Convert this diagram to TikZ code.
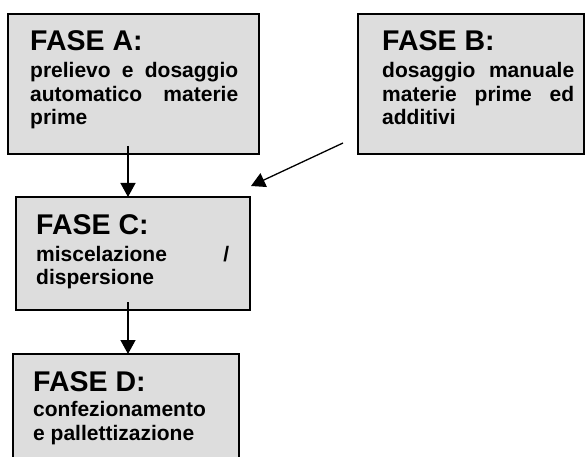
\documentclass[tikz,border=0pt]{standalone}
\usepackage{fontspec}
\setmainfont{Liberation Sans}
\usetikzlibrary{arrows.meta}
\setlength{\parindent}{0pt}
\hyphenpenalty=10000
\tolerance=10000
\hbadness=10000
\newcommand{\fasetitle}{\fontsize{28.5bp}{30bp}\selectfont\bfseries}
\newcommand{\fasebody}{\fontsize{21bp}{23.5bp}\selectfont\bfseries}
\tikzset{
	fasebox/.style={draw, line width=1.5bp, fill=gray!27, rectangle, anchor=north west, inner sep=0pt, outer sep=0pt},
	fasetext/.style={anchor=north west, inner sep=0pt, align=justify, font=\fasebody},
	flow/.style={line width=1.3bp, -{Triangle[length=14bp,width=15bp]}}
}
\begin{document}
\begin{tikzpicture}[x=1bp, y=-1bp]
	\clip (0,0) rectangle (586,457);
	% (A) prelievo automatico
	\node[fasebox, minimum width=251bp, minimum height=140bp] (A) at (8,14) {};
	\node[fasetext, text width=208bp] (textA) at (30,30.6) {\fasetitle FASE A:\par\vspace{3.5bp}\fasebody prelievo e dosaggio automatico materie prime};

	% (B) dosaggio manuale
	\node[fasebox, minimum width=226bp, minimum height=140bp] (B) at (358,14) {};
	\node[fasetext, text width=192bp] (textB) at (382,30.6) {\fasetitle FASE B:\par\vspace{3.5bp}\fasebody dosaggio manuale materie prime ed additivi};

	% (C) miscelazione
	\node[fasebox, minimum width=234bp, minimum height=113bp] (C) at (16,197) {};
	\node[fasetext, text width=193bp] (textC) at (36,214.6) {\fasetitle FASE C:\par\vspace{3.2bp}\fasebody miscelazione / dispersione};

	% (D) confezionamento
	\node[fasebox, minimum width=226bp, minimum height=120bp] (D) at (13,354) {};
	\node[fasetext, text width=178bp] (textD) at (33,371.3) {\fasetitle FASE D:\par\vspace{2bp}\fasebody confezionamento e pallettizazione};

	\draw[flow] ([xshift=-5.5bp, yshift=8bp]A.south) -- ([xshift=-5.5bp]A.south |- C.north);
	\draw[flow] ([xshift=-15bp, yshift=11bp]B.south west) -- ([xshift=1bp, yshift=11bp]C.north east);
	\draw[flow] ([xshift=-5bp, yshift=8bp]C.south) -- ([xshift=-5bp]C.south |- D.north);
\end{tikzpicture}
\end{document}
